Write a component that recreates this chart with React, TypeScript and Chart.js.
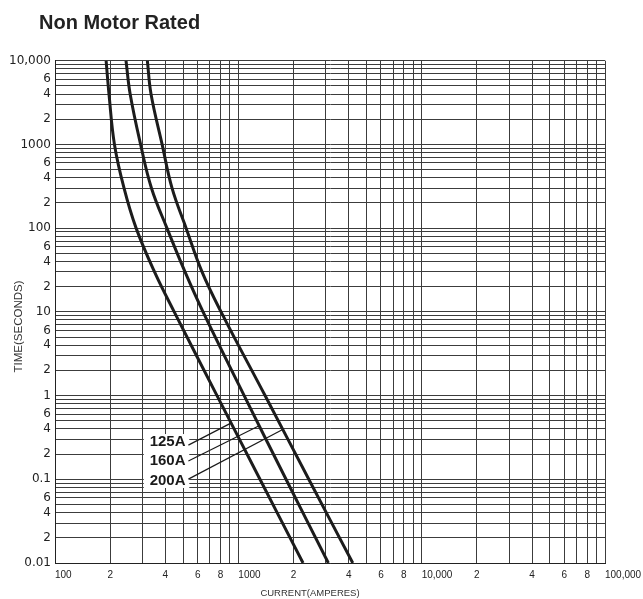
import React, { useEffect, useRef } from 'react';
import { Chart, registerables } from 'chart.js';

Chart.register(...registerables);

const chartTitle = 'Non Motor Rated';
const xAxisTitle = 'CURRENT(AMPERES)';
const yAxisTitle = 'TIME(SECONDS)';

// Time (s) at common heights, and current (A) of each curve at those times
const timeSeconds = [10000, 4000, 1000, 300, 100, 30, 10, 1, 0.1, 0.01];
const current125A = [190, 197, 211, 238, 277, 349, 447, 765, 1312, 2254];
const current160A = [244, 257, 293, 336, 408, 512, 642, 1076, 1820, 3097];
const current200A = [319, 334, 384, 435, 519, 634, 805, 1399, 2422, 4209];
const seriesNames = ['125A', '160A', '200A'];

const xTickValues = [100, 200, 400, 600, 800, 1000, 2000, 4000, 6000, 8000, 10000, 20000, 40000, 60000, 80000, 100000];
const xTickLabels = ['100', '2', '4', '6', '8', '1000', '2', '4', '6', '8', '10,000', '2', '4', '6', '8', '100,000'];
const xDecadeLabels = ['100', '1000', '10,000', '100,000'];

const yTickValues = [10000, 6000, 4000, 2000, 1000, 600, 400, 200, 100, 60, 40, 20, 10, 6, 4, 2, 1, 0.6, 0.4, 0.2, 0.1, 0.06, 0.04, 0.02, 0.01];
const yTickLabels = ['10,000', '6', '4', '2', '1000', '6', '4', '2', '100', '6', '4', '2', '10', '6', '4', '2', '1', '6', '4', '2', '0.1', '6', '4', '2', '0.01'];

const xMin = 100, xMax = 100000;
const yMin = 0.01, yMax = 10000;

// Callout annotations (data coordinates)
const leaderStartCurrent = [534, 534, 534];
const leaderStartTime = [0.256, 0.165, 0.1005];
const leaderEndCurrent = [905, 1290, 1746];
const leaderEndTime = [0.465, 0.432, 0.394];
const labelCurrent = [515, 515, 515];
const labelTime = [0.2767, 0.168, 0.096];
const labelBoxCurrent = [305, 540];
const labelBoxTime = [0.347, 0.0787];

function logGrid(min: number, max: number): number[] {
  const out: number[] = [];
  for (let e = Math.round(Math.log10(min)); e < Math.round(Math.log10(max)); e++) {
    for (let m = 1; m <= 9; m++) out.push(Number((m * Math.pow(10, e)).toPrecision(6)));
  }
  out.push(max);
  return out;
}

const xGrid = logGrid(xMin, xMax);
const yGrid = logGrid(yMin, yMax);

const overlayPlugin = {
  id: 'overlay',
  afterDatasetsDraw(chart: any) {
    const { ctx, scales } = chart;
    const x = scales.x, y = scales.y;
    ctx.save();
    const bx0 = x.getPixelForValue(labelBoxCurrent[0]);
    const bx1 = x.getPixelForValue(labelBoxCurrent[1]);
    const by0 = y.getPixelForValue(labelBoxTime[0]);
    const by1 = y.getPixelForValue(labelBoxTime[1]);
    ctx.fillStyle = '#ffffff';
    ctx.fillRect(bx0, by0, bx1 - bx0, by1 - by0);

    ctx.strokeStyle = '#1a1a1a';
    ctx.lineWidth = 1.2;
    for (let i = 0; i < seriesNames.length; i++) {
      ctx.beginPath();
      ctx.moveTo(x.getPixelForValue(leaderStartCurrent[i]), y.getPixelForValue(leaderStartTime[i]));
      ctx.lineTo(x.getPixelForValue(leaderEndCurrent[i]), y.getPixelForValue(leaderEndTime[i]));
      ctx.stroke();
    }
    ctx.fillStyle = '#1a1a1a';
    ctx.font = 'bold 15px "Liberation Sans", Arial, sans-serif';
    ctx.textAlign = 'right';
    ctx.textBaseline = 'middle';
    for (let i = 0; i < seriesNames.length; i++) {
      ctx.fillText(seriesNames[i], x.getPixelForValue(labelCurrent[i]), y.getPixelForValue(labelTime[i]));
    }
    ctx.restore();
  },
  afterDraw(chart: any) {
    const { ctx, scales, chartArea } = chart;
    const x = scales.x;
    ctx.save();
    ctx.fillStyle = '#222';
    ctx.font = 'bold 20px "Liberation Sans", Arial, sans-serif';
    ctx.textAlign = 'left';
    ctx.textBaseline = 'alphabetic';
    ctx.fillText(chartTitle, 39, 28.5);

    ctx.font = '10px "Liberation Sans", Arial, sans-serif';
    ctx.textBaseline = 'middle';
    for (let i = 0; i < xTickValues.length; i++) {
      const lbl = xTickLabels[i];
      ctx.textAlign = xDecadeLabels.includes(lbl) ? 'left' : 'center';
      ctx.fillText(lbl, x.getPixelForValue(xTickValues[i]), chartArea.bottom + 12);
    }

    ctx.font = '9.5px "Liberation Sans", Arial, sans-serif';
    ctx.textAlign = 'center';
    ctx.fillStyle = '#333';
    ctx.fillText(xAxisTitle, 310, chartArea.bottom + 30.5);

    ctx.translate(19, 326.5);
    ctx.rotate(-Math.PI / 2);
    ctx.font = '11.5px "Liberation Sans", Arial, sans-serif';
    ctx.fillText(yAxisTitle, 0, 0);
    ctx.restore();
  },
};

export default function App() {
  const canvasRef = useRef<HTMLCanvasElement | null>(null);

  useEffect(() => {
    if (!canvasRef.current) return;
    const mk = (arr: number[]) => arr.map((c, i) => ({ x: c, y: timeSeconds[i] }));
    const curves = [current125A, current160A, current200A];
    const chart = new Chart(canvasRef.current, {
      type: 'line',
      data: {
        datasets: curves.map((c, i) => ({
          label: seriesNames[i],
          data: mk(c),
          borderColor: '#1c1c1c',
          borderWidth: 3,
          pointRadius: 0,
          tension: 0.4,
          fill: false,
        })),
      },
      options: {
        responsive: false,
        animation: false,
        layout: { padding: { left: 0, right: 38, top: 60.7, bottom: 36 } },
        plugins: {
          legend: { display: false },
          title: { display: false },
          tooltip: { enabled: false },
        },
        scales: {
          x: {
            type: 'logarithmic',
            min: xMin,
            max: xMax,
            afterBuildTicks: (s: any) => { s.ticks = xGrid.map((v) => ({ value: v })); },
            afterFit: (s: any) => { s.height = 0; },
            ticks: { display: false, autoSkip: false },
            grid: { color: '#3c3c3c', lineWidth: 1, drawTicks: false },
            border: { display: true, color: '#222', width: 1 },
          },
          y: {
            type: 'logarithmic',
            min: yMin,
            max: yMax,
            afterBuildTicks: (s: any) => { s.ticks = yGrid.map((v) => ({ value: v })); },
            afterFit: (s: any) => { s.width = 55; },
            ticks: {
              autoSkip: false,
              padding: 4,
              color: '#222',
              font: { family: '"DejaVu Sans", sans-serif', size: 12 },
              callback: (v: any) => {
                const idx = yTickValues.findIndex((t) => Math.abs(t - Number(v)) / t < 1e-6);
                return idx >= 0 ? yTickLabels[idx] : '';
              },
            },
            grid: { color: '#3c3c3c', lineWidth: 1, drawTicks: false },
            border: { display: true, color: '#222', width: 1 },
          },
        },
      } as any,
      plugins: [overlayPlugin],
    });
    return () => chart.destroy();
  }, []);

  return (
    <div style={{ position: 'absolute', left: 0, top: 0, width: 643, height: 599, background: '#fff' }}>
      <canvas ref={canvasRef} width={643} height={599} style={{ width: 643, height: 599, display: 'block' }} />
    </div>
  );
}
